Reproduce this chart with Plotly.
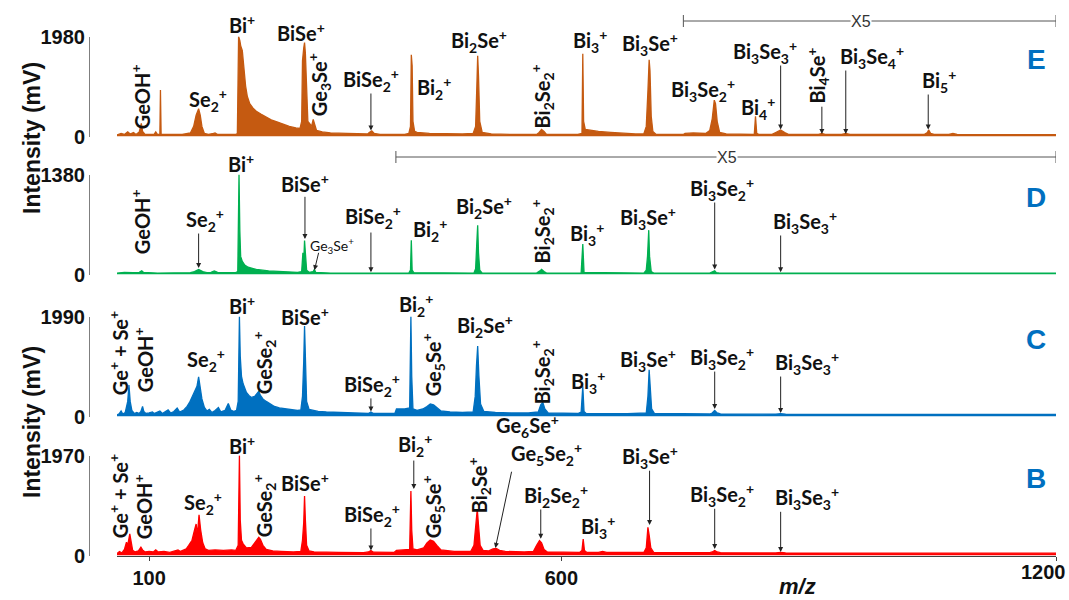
import plotly.graph_objects as go

# ---------------- data (m/z, intensity in mV) ----------------
X_RANGE = [61, 1200]
X_TICKS = [100, 600, 1200]

E_MAX, D_MAX, C_MAX, B_MAX = 1980, 1380, 1990, 1970

E_mz = [61, 66, 70, 74, 77, 81, 84, 88, 90.5, 92, 95, 106, 108, 110, 113, 113.7, 114.5, 125, 140, 150,
        154, 157, 159, 160, 162, 164, 167, 172, 178, 180, 183, 205, 207, 208.5, 210, 211, 213, 215, 217,
        219, 222, 226, 230, 236, 242, 248, 255, 262, 270, 278, 283, 285, 286, 287.5, 288.5, 289.5, 291,
        292.5, 295, 297, 299, 301, 303, 310, 320, 340, 360, 365, 367, 370, 373, 380, 410, 415, 417, 418,
        419, 420, 422, 425, 440, 460, 480, 493, 496, 497.5, 498.5, 499.5, 501, 504, 515, 540, 570, 573,
        576, 579, 582, 620, 625, 626, 627, 629, 635, 645, 660, 675, 690, 700, 703, 705, 706.5, 707.5,
        709, 711, 715, 748, 750, 760, 775, 780, 783, 785.5, 787, 789, 792, 800, 820, 834, 835.5, 837,
        840, 855, 860, 866, 871, 876, 912, 916, 920, 940, 945, 950, 980, 1040, 1044, 1045.5, 1048, 1052,
        1070, 1075, 1080, 1200]
E_int = [30, 60, 40, 90, 50, 80, 40, 90, 260, 100, 40, 40, 90, 40, 40, 920, 40, 40, 40, 70,
         200, 420, 500, 550, 420, 200, 60, 40, 60, 70, 40, 40, 60, 1980, 1900, 1800, 1700, 1300, 1000,
         800, 650, 560, 500, 440, 390, 330, 290, 250, 200, 170, 160, 300, 1500, 1750, 1860, 1650, 700,
         300, 250, 200, 340, 200, 120, 90, 70, 60, 50, 50, 80, 110, 60, 40, 40, 60, 200, 1620,
         1400, 300, 100, 80, 60, 50, 50, 60, 200, 1000, 1600, 1200, 300, 80, 50, 40, 40, 80,
         140, 100, 40, 40, 60, 1640, 300, 140, 120, 100, 80, 60, 50, 50, 200, 900, 1520, 1300,
         400, 100, 40, 40, 60, 70, 60, 120, 350, 720, 650, 300, 80, 50, 40, 40, 400, 60,
         40, 40, 80, 130, 80, 40, 40, 60, 40, 40, 60, 40, 40, 40, 80, 130, 60, 40,
         40, 60, 40, 35]

D_mz = [61, 70, 80, 88, 91, 93, 110, 150, 155, 160, 165, 170, 175, 179, 183, 205, 207.5, 209, 210,
        211, 213, 216, 220, 230, 245, 260, 280, 285, 286.5, 287.5, 288.5, 289.5, 291, 294, 299, 300.5,
        302, 320, 415, 417, 418, 419, 421, 494, 496, 497.5, 498.5, 499.5, 501, 504, 570, 574, 576, 579,
        582, 624, 626, 627.5, 700, 703, 704.5, 706, 707, 709, 712, 780, 784, 786, 788, 792, 1200]
D_int = [20, 30, 25, 30, 50, 30, 20, 25, 40, 70, 40, 25, 30, 50, 30, 25, 40, 1380, 600,
         250, 180, 130, 100, 70, 50, 40, 30, 40, 300, 180, 470, 300, 60, 30, 40, 70,
         30, 20, 20, 60, 474, 60, 25, 20, 80, 450, 680, 300, 60, 20, 20, 50, 70, 40,
         20, 20, 420, 30, 20, 60, 250, 612, 250, 40, 20, 20, 40, 50, 25, 20, 20]

C_mz = [61, 64, 66, 68, 71, 72.5, 74, 75.5, 77, 79, 82, 85, 88, 90, 92, 93.5, 96, 100, 104, 106, 110,
        113, 116, 120, 123, 126, 130, 134, 137, 142, 146, 149, 152, 155, 158, 160, 162, 164, 167, 170,
        173, 176, 180, 184, 187, 192, 196, 199, 203, 206, 208, 209.5, 210.5, 212, 214, 216, 218, 221,
        224, 228, 231, 233, 235, 238, 242, 247, 252, 258, 265, 272, 280, 284, 286, 287.5, 288.5, 289.5,
        291, 294, 298, 305, 315, 330, 350, 366, 369, 372, 385, 398, 400, 410, 416, 417.5, 418.5, 420,
        425, 432, 437, 441, 445, 449, 454, 465, 480, 493, 495.5, 497, 498.5, 500, 502, 506, 520, 540,
        560, 572, 575, 577.5, 580, 584, 600, 620, 624, 626, 627.5, 630, 660, 680, 703, 705, 706.5,
        707.5, 709.5, 713, 750, 780, 783, 786, 789, 793, 860, 866, 872, 1200]
C_int = [30, 60, 110, 50, 80, 180, 300, 625, 300, 120, 60, 80, 60, 100, 200, 100, 60, 70, 90, 60, 80,
         110, 60, 100, 130, 70, 100, 170, 90, 130, 200, 280, 380, 480, 600, 790, 600, 350, 180, 110,
         140, 80, 120, 180, 90, 120, 260, 130, 100, 120, 300, 1990, 1200, 800, 650, 560, 480, 420,
         380, 400, 470, 500, 420, 350, 300, 250, 200, 170, 150, 140, 120, 130, 400, 1100, 1800, 1200,
         300, 140, 120, 100, 90, 80, 70, 60, 90, 60, 60, 60, 150, 150, 170, 1990, 800, 150,
         120, 150, 200, 250, 230, 180, 110, 90, 80, 90, 400, 1000, 1400, 800, 250, 100, 80, 70,
         70, 90, 230, 280, 150, 70, 60, 60, 90, 600, 100, 60, 55, 55, 70, 400, 930,
         600, 150, 60, 50, 50, 70, 120, 70, 50, 45, 55, 45, 40]

B_mz = [61, 64, 67, 70, 72.5, 74, 76.5, 78, 80, 83, 87, 90, 92, 95, 100, 105, 108, 111, 118, 125, 132,
        135, 138, 145, 148, 152, 155, 157, 158.5, 160.5, 162.5, 165, 168, 172, 180, 190, 200, 205, 208,
        209.5, 210.5, 212, 214, 218, 224, 228, 231, 233, 235, 238, 242, 250, 260, 275, 284, 286, 287.5,
        288.5, 289.5, 291, 294, 300, 330, 360, 366, 369, 372, 385, 397, 400, 410, 416, 417.5, 418.5,
        420, 425, 433, 437, 441, 445, 449, 454, 470, 490, 494, 496, 498, 499.5, 501.5, 505, 512, 517,
        521, 525, 532, 555, 566, 570, 573.5, 576, 579, 583, 600, 622, 625, 626.5, 628, 631, 645, 650,
        655, 700, 703, 705, 706.5, 708.5, 712, 780, 783, 786, 789, 793, 860, 866, 872, 1200]
B_int = [40, 80, 50, 120, 260, 200, 424, 250, 100, 70, 90, 163, 110, 70, 80, 70, 110, 70, 80, 60, 90,
         110, 80, 130, 200, 300, 500, 620, 400, 802, 500, 250, 130, 100, 110, 100, 110, 100, 200,
         1976, 700, 300, 230, 150, 160, 250, 330, 360, 320, 200, 120, 90, 80, 70, 80, 300, 650,
         1174, 700, 200, 90, 70, 60, 55, 70, 98, 65, 60, 60, 100, 110, 120, 1272, 500,
         130, 110, 150, 250, 307, 280, 200, 110, 80, 80, 200, 600, 913, 600, 200, 100, 90, 130,
         140, 100, 80, 70, 80, 200, 295, 250, 120, 70, 60, 60, 100, 326, 100, 60, 60, 80,
         60, 60, 150, 555, 400, 150, 60, 55, 70, 100, 70, 55, 50, 60, 50, 45]

# peak labels: (text, m/z, intensity level in mV, angle)
E_labels = [("GeOH<sup>+</sup>", 89.1, 782, -90), ("Se<sub>2</sub><sup>+</sup>", 171.6, 723, 0),
            ("Bi<sup>+</sup>", 212.9, 2228, 0), ("BiSe<sup>+</sup>", 284.5, 2069, 0),
            ("Ge<sub>3</sub>Se<sup>+</sup>", 306.3, 1020, -90), ("BiSe<sub>2</sub><sup>+</sup>", 369.4, 1119, 0),
            ("Bi<sub>2</sub><sup>+</sup>", 445.9, 960, 0), ("Bi<sub>2</sub>Se<sup>+</sup>", 500.5, 1891, 0),
            ("Bi<sub>2</sub>Se<sub>2</sub><sup>+</sup>", 577, 802, -90), ("Bi<sub>3</sub><sup>+</sup>", 635.2, 1891, 0),
            ("Bi<sub>3</sub>Se<sup>+</sup>", 708, 1832, 0), ("Bi<sub>3</sub>Se<sub>2</sub><sup>+</sup>", 772.3, 921, 0),
            ("Bi<sub>4</sub><sup>+</sup>", 838.8, 564, 0), ("Bi<sub>3</sub>Se<sub>3</sub><sup>+</sup>", 847.6, 1673, 0),
            ("Bi<sub>4</sub>Se<sup>+</sup>", 910.7, 1198, -90), ("Bi<sub>3</sub>Se<sub>4</sub><sup>+</sup>", 976.2, 1574, 0),
            ("Bi<sub>5</sub><sup>+</sup>", 1057.5, 1099, 0)]
E_arrows = [(369, 120, 369, 881), (866, 140, 866, 1435), (916, 50, 916, 620), (945, 50, 945, 1336),
            (1045, 140, 1045, 861)]

D_labels = [("GeOH<sup>+</sup>", 89.1, 725, -90), ("Se<sub>2</sub><sup>+</sup>", 168, 752, 0),
            ("Bi<sup>+</sup>", 211.7, 1539, 0), ("BiSe<sup>+</sup>", 289.3, 1263, 0),
            ("BiSe<sub>2</sub><sup>+</sup>", 371.5, 790, 0), ("Bi<sub>2</sub><sup>+</sup>", 441, 614, 0),
            ("Bi<sub>2</sub>Se<sup>+</sup>", 506.6, 932, 0), ("Bi<sub>2</sub>Se<sub>2</sub><sup>+</sup>", 577, 600, -90),
            ("Bi<sub>3</sub><sup>+</sup>", 631.6, 559, 0), ("Bi<sub>3</sub>Se<sup>+</sup>", 705.6, 780, 0),
            ("Bi<sub>3</sub>Se<sub>2</sub><sup>+</sup>", 794.5, 1180, 0), ("Bi<sub>3</sub>Se<sub>3</sub><sup>+</sup>", 896, 725, 0)]
D_small_labels = [("Ge<sub>3</sub>Se<sup>+</sup>", 321.5, 395, 0)]
D_arrows = [(160, 90, 160, 586), (289, 490, 289, 1093), (300.5, 60, 306, 320), (369, 30, 369, 600),
            (786, 70, 786, 1014), (866, 30, 866, 559)]

C_labels = [("Ge<sup>+</sup> + Se<sup>+</sup>", 62.4, 1264, -90), ("GeOH<sup>+</sup>", 92.7, 1124, -90),
            ("Se<sub>2</sub><sup>+</sup>", 169.2, 1124, 0), ("Bi<sup>+</sup>", 212.9, 2219, 0),
            ("GeSe<sub>2</sub><sup>+</sup>", 239.6, 1065, -90), ("BiSe<sup>+</sup>", 289.3, 2000, 0),
            ("BiSe<sub>2</sub><sup>+</sup>", 370.6, 627, 0), ("Bi<sub>2</sub><sup>+</sup>", 424, 2219, 0),
            ("Ge<sub>5</sub>Se<sup>+</sup>", 444.7, 1025, -90), ("Bi<sub>2</sub>Se<sup>+</sup>", 507.8, 1801, 0),
            ("Bi<sub>2</sub>Se<sub>2</sub><sup>+</sup>", 577, 886, -90), ("Bi<sub>3</sub><sup>+</sup>", 632.8, 687, 0),
            ("Bi<sub>3</sub>Se<sup>+</sup>", 705.6, 1124, 0), ("Bi<sub>3</sub>Se<sub>2</sub><sup>+</sup>", 794.5, 1164, 0),
            ("Bi<sub>3</sub>Se<sub>3</sub><sup>+</sup>", 898.5, 1065, 0)]
C_arrows = [(369, 100, 369, 390), (786, 150, 786, 924), (866, 70, 866, 825)]

B_labels = [("Ge<sup>+</sup> + Se<sup>+</sup>", 62.4, 1172, -90), ("GeOH<sup>+</sup>", 92.7, 955, -90),
            ("Se<sub>2</sub><sup>+</sup>", 165.5, 1034, 0), ("Bi<sup>+</sup>", 212.9, 2177, 0),
            ("GeSe<sub>2</sub><sup>+</sup>", 239.6, 975, -90), ("BiSe<sup>+</sup>", 289.3, 1448, 0),
            ("BiSe<sub>2</sub><sup>+</sup>", 370.6, 798, 0), ("Bi<sub>2</sub><sup>+</sup>", 422.8, 2177, 0),
            ("Ge<sub>5</sub>Se<sup>+</sup>", 444.7, 955, -90), ("Bi<sub>2</sub>Se<sup>+</sup>", 500.5, 1389, -90),
            ("Ge<sub>6</sub>Se<sup>+</sup>", 558.7, 2560, 0), ("Ge<sub>5</sub>Se<sub>2</sub><sup>+</sup>", 581.8, 2000, 0),
            ("Bi<sub>2</sub>Se<sub>2</sub><sup>+</sup>", 594, 1172, 0), ("Bi<sub>3</sub><sup>+</sup>", 644.9, 561, 0),
            ("Bi<sub>3</sub>Se<sup>+</sup>", 708, 1940, 0), ("Bi<sub>3</sub>Se<sub>2</sub><sup>+</sup>", 794.5, 1192, 0),
            ("Bi<sub>3</sub>Se<sub>3</sub><sup>+</sup>", 898.5, 1133, 0)]
B_arrows = [(369, 100, 369, 562), (421, 1310, 421, 1900), (520, 150, 540, 1680), (575, 330, 575, 936),
            (707, 600, 707, 1700), (786, 130, 786, 950), (866, 70, 866, 890)]


def f(s):
    return "<b>" + s + "</b>"


# ---------------- layout ----------------
W, H = 1069, 600


def py(px):
    return 1 - px / H


XDOM = [117 / W, 1056 / W]
YPOS = 89 / W
LABEL_FONT = "Lato, 'Noto Sans', sans-serif"
AX_FONT = "'Liberation Sans', Arial, sans-serif"

panels = [
    # name, mz, int, max, color, xa, ya, top_px, zero_px, labels, arrows
    ("B", B_mz, B_int, B_MAX, "#FF0000", "x", "y", 455.5, 555.5, B_labels, B_arrows),
    ("C", C_mz, C_int, C_MAX, "#0070C0", "x2", "y2", 316.5, 416.5, C_labels, C_arrows),
    ("D", D_mz, D_int, D_MAX, "#00B050", "x3", "y3", 174.5, 274.5, D_labels, D_arrows),
    ("E", E_mz, E_int, E_MAX, "#C55A11", "x4", "y4", 36.5, 136.5, E_labels, E_arrows),
]

fig = go.Figure()
annotations = []
shapes = []
layout = dict(width=W, height=H, margin=dict(l=0, r=0, t=0, b=0, autoexpand=False), showlegend=False,
              paper_bgcolor="white", plot_bgcolor="white")

for name, mz, inten, ymax, color, xa, ya, top, zero, labels, arrows in panels:
    def lvl(v, top=top, zero=zero, ymax=ymax):
        # intensity level of this panel -> paper fraction
        return py(zero - v / ymax * (zero - top))

    fig.add_trace(go.Scatter(x=mz, y=inten, mode="lines", xaxis=xa, yaxis=ya,
                             line=dict(color=color, width=1.3), fill="tozeroy", fillcolor=color,
                             hoverinfo="skip"))
    xkey = "xaxis" + ("" if xa == "x" else xa[1:])
    ykey = "yaxis" + ("" if ya == "y" else ya[1:])
    bottom = (xa == "x")
    layout[xkey] = dict(domain=XDOM, range=X_RANGE, anchor=ya, showgrid=False, zeroline=False,
                        visible=bottom, showline=bottom, linecolor="#404040", linewidth=1.3,
                        ticks="outside" if bottom else "", ticklen=4, tickcolor="#404040",
                        tickvals=X_TICKS, ticktext=[f(str(v)) if v != X_TICKS[-1] else "" for v in X_TICKS],
                        automargin=False,
                        tickfont=dict(family=AX_FONT, size=20, color="#111"))
    layout[ykey] = dict(domain=[py(zero), py(top)], range=[0, ymax], anchor="free", position=YPOS,
                        showgrid=False, zeroline=False, showline=True, linecolor="#7f7f7f", linewidth=1,
                        ticks="inside", ticklen=5, tickcolor="#7f7f7f", tickvals=[0, ymax], automargin=False,
                        ticktext=[f("0"), f(str(ymax))], tickfont=dict(family=AX_FONT, size=20, color="#111"))
    for text, x, y, ang in labels:
        annotations.append(dict(text=f(text), x=x, y=lvl(y), xref=xa, yref="paper", showarrow=False,
                                textangle=ang, xanchor="center", yanchor="middle",
                                font=dict(family=LABEL_FONT, size=20, color="#111")))
    for xt, yt, xs, ys in arrows:
        annotations.append(dict(text="", x=xt, y=yt, xref=xa, yref=ya, ax=xs, ay=ys, axref=xa, ayref=ya,
                                showarrow=True, arrowhead=2, arrowsize=1, arrowwidth=1, arrowcolor="#222"))
    annotations.append(dict(text=f(name), x=1176, y=py(top + 23), xref=xa, yref="paper",
                            showarrow=False, xanchor="center", yanchor="middle",
                            font=dict(family=AX_FONT, size=28, color="#0070C0")))
    if name == "D":
        for text, x, y, ang in D_small_labels:
            annotations.append(dict(text=text, x=x, y=lvl(y), xref=xa, yref="paper", showarrow=False,
                                    textangle=ang, xanchor="center", yanchor="middle",
                                    font=dict(family=LABEL_FONT, size=14, color="#111")))

# last x tick label (sits just inside the right edge)
annotations.append(dict(text=f(str(X_TICKS[-1])), x=1068 / W, y=py(572), xref="paper", yref="paper",
                        showarrow=False, xanchor="right", yanchor="middle",
                        font=dict(family=AX_FONT, size=20, color="#111")))

# X5 brackets
for xa, x0, x1, ypx, xt in [("x4", 748, 1200, 21, 963), ("x3", 399.3, 1200, 157, 801.5)]:
    shapes.append(dict(type="line", xref=xa, yref="paper", x0=x0, x1=x1, y0=py(ypx), y1=py(ypx),
                       line=dict(color="#555", width=1)))
    for xx in (x0, x1):
        shapes.append(dict(type="line", xref=xa, yref="paper", x0=xx, x1=xx, y0=py(ypx - 6), y1=py(ypx + 6),
                           line=dict(color="#555", width=1)))
    annotations.append(dict(text="X5", x=xt, y=py(ypx), xref=xa, yref="paper", showarrow=False,
                            xanchor="center", yanchor="middle", bgcolor="white", borderpad=0,
                            font=dict(family=AX_FONT, size=16, color="#333")))

# axis titles
for ypx in (138, 422):
    annotations.append(dict(text=f("Intensity (mV)"), x=32 / W, y=py(ypx), xref="paper", yref="paper",
                            showarrow=False, textangle=-90, xanchor="center", yanchor="middle",
                            font=dict(family=AX_FONT, size=23, color="#111")))
annotations.append(dict(text="<b><i>m/z</i></b>", x=797 / W, y=py(586), xref="paper", yref="paper",
                        showarrow=False, xanchor="center", yanchor="middle",
                        font=dict(family=AX_FONT, size=22, color="#111")))

layout["annotations"] = annotations
layout["shapes"] = shapes
fig.update_layout(**layout)
fig.write_html("out.html", post_script="document.body.style.margin='0';")
